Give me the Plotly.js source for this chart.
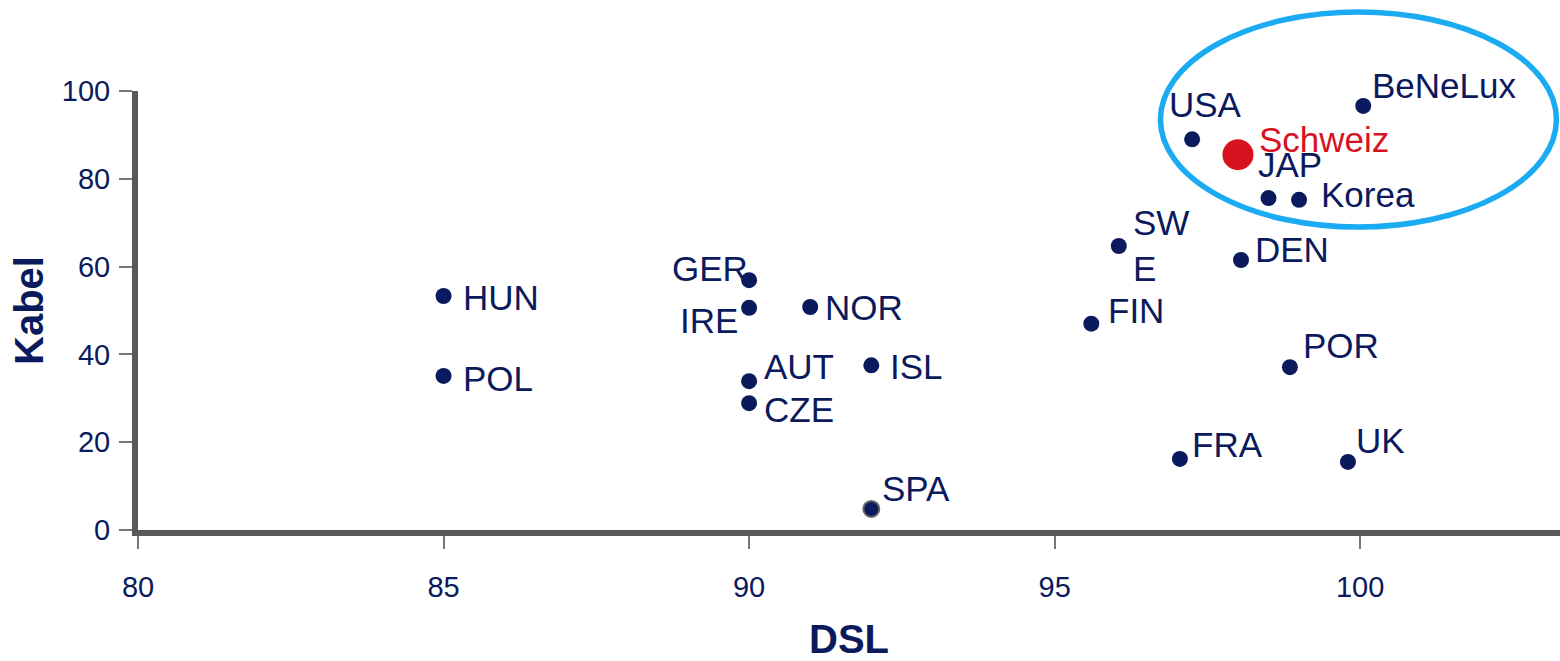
<!DOCTYPE html>
<html><head><meta charset="utf-8">
<script src="https://cdn.plot.ly/plotly-3.0.1.min.js"></script>
<style>html,body{margin:0;padding:0;background:#fff}</style>
</head><body><div id="chart" style="width:1560px;height:661px"></div>
<script>
// Data
const countries = ["HUN","POL","GER","IRE","NOR","AUT","CZE","ISL","SPA","SW<br>E","FIN","DEN","USA","JAP","Korea","","BeNeLux","POR","FRA","UK"];
const dsl   = [85.0, 85.0, 90.0, 90.0, 91.0, 90.0, 90.0, 92.0, 92.0, 96.05, 95.6, 98.05, 97.25, 98.0, 99.0, 98.5, 100.05, 98.85, 97.05, 99.8];
const kabel = [53.3, 35.1, 56.9, 50.6, 50.8, 33.9, 28.9, 37.5, 4.8, 64.7, 47.0, 61.5, 89.0, 85.5, 75.2, 75.6, 96.6, 37.1, 16.2, 15.5];

const chName = ["Schweiz"];
const chDsl = [98.0];
const chKabel = [85.5];

const xTicks = [80, 85, 90, 95, 100];
const yTicks = [0, 20, 40, 60, 80, 100];

// label placement (style only): anchor side and pixel offsets from each dot
const lblAnchor = ["left","left","right","right","left","left","left","left","left","left","left","left","center","left","left","left","left","left","left","left"];
const lblDx = [17, 17, 1, -9, 13, 13, 13, 17, 9, 12, 15, 12, 13, 18, 20, 0, 7, 11, 10, 6];
const lblDy = [-1, -3, 12, -13, -1, 15, -6, -1, 20, 0, 13, 11, 35, -10, 5, 0, 20, 22, 14, 21];

const navy = "#0a1a5c";
const red = "#d9121f";
const font = "Liberation Sans, Arial, sans-serif";

const markerLines = countries.map(c => c === "SPA" ? "#666666" : navy);
const markerLineW = countries.map(c => c === "SPA" ? 2 : 0);

const traces = [
  {
    x: dsl, y: kabel, mode: "markers", type: "scatter", cliponaxis: false,
    text: countries, hoverinfo: "x+y+text",
    marker: {size: 16, color: navy, line: {color: markerLines, width: markerLineW}},
    showlegend: false
  },
  {
    x: chDsl, y: chKabel, mode: "markers", type: "scatter", cliponaxis: false,
    text: chName, marker: {size: 31, color: red}, showlegend: false
  }
];

const annotations = countries.map((c, i) => ({
  x: dsl[i], y: kabel[i], xref: "x", yref: "y", text: c, showarrow: false,
  xanchor: lblAnchor[i], yanchor: "middle", xshift: lblDx[i], yshift: lblDy[i],
  font: {family: font, size: 35, color: navy}, align: "left"
})).filter(a => a.text !== "");
chName.forEach((c, i) => annotations.push({
  x: chDsl[i], y: chKabel[i], xref: "x", yref: "y", text: c, showarrow: false,
  xanchor: "left", yanchor: "middle", xshift: 19, yshift: 15,
  font: {family: font, size: 35, color: red}
}));

const layout = {
  width: 1560, height: 661,
  margin: {l: 138, r: 0, t: 91, b: 131},
  paper_bgcolor: "#fff", plot_bgcolor: "#fff",
  font: {family: font, color: navy},
  xaxis: {
    range: [80, 103.27], tickvals: xTicks, ticktext: xTicks.map(String),
    showgrid: false, zeroline: false,
    showline: true, linecolor: "#595959", linewidth: 6,
    ticks: "outside", ticklen: 13, tickwidth: 2, tickcolor: "#777777",
    ticklabelstandoff: 13,
    tickfont: {family: font, size: 29, color: navy},
    title: {text: "<b>DSL</b>", font: {family: font, size: 40, color: navy}, standoff: 28},
    automargin: false, fixedrange: true
  },
  yaxis: {
    range: [0, 100], tickvals: yTicks, ticktext: yTicks.map(String),
    showgrid: false, zeroline: false,
    showline: true, linecolor: "#595959", linewidth: 6,
    ticks: "outside", ticklen: 13, tickwidth: 2, tickcolor: "#777777",
    ticklabelstandoff: 3,
    tickfont: {family: font, size: 29, color: navy},
    title: {text: "<b>Kabel</b>", font: {family: font, size: 40, color: navy}, standoff: 8},
    automargin: false, fixedrange: true
  },
  annotations: annotations,
  shapes: [{
    type: "circle", xref: "paper", yref: "paper",
    x0: 0.719, x1: 0.9975, y0: 0.690, y1: 1.18,
    line: {color: "#1aabf2", width: 5.5}, fillcolor: "rgba(0,0,0,0)", layer: "above"
  }]
};

Plotly.newPlot("chart", traces, layout, {displayModeBar: false, staticPlot: true});
</script></body></html>
